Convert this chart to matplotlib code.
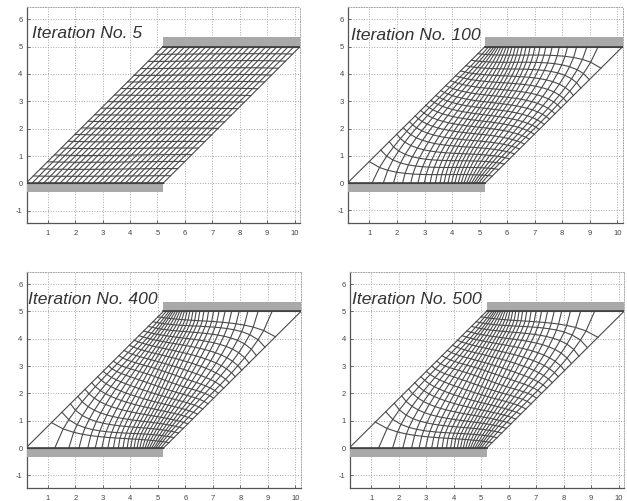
import numpy as np
import matplotlib
matplotlib.use('Agg')
import matplotlib.pyplot as plt
from matplotlib.patches import Rectangle

plt.rcParams['font.family'] = ['Liberation Sans', 'DejaVu Sans']
plt.rcParams['axes.unicode_minus'] = False

W, H = 627, 501

titles = ['Iteration No. 5', 'Iteration No. 100', 'Iteration No. 400', 'Iteration No. 500']

# mesh nodes read along the bottom edge (x) and the left edge (y)
bottom_5 = [0.2, 0.42, 0.63, 0.84, 1.04, 1.24, 1.44, 1.64, 1.84, 2.04, 2.24, 2.44, 2.64,
            2.84, 3.03, 3.23, 3.43, 3.63, 3.82, 4.01, 4.2, 4.4, 4.6, 4.79, 4.99, 5.2]
left_5 = [0, 0.27, 0.53, 0.79, 1.04, 1.29, 1.54, 1.79, 2.03, 2.27, 2.51, 2.75, 2.99, 3.23,
          3.47, 3.71, 3.95, 4.2, 4.46, 4.72, 5]
bottom_100 = [0.2, 1.09, 1.5, 1.87, 2.2, 2.5, 2.76, 2.99, 3.2, 3.39, 3.56, 3.71, 3.85,
              3.98, 4.1, 4.22, 4.33, 4.43, 4.53, 4.62, 4.71, 4.79, 4.87, 4.96, 5.07, 5.2]
left_100 = [0, 0.79, 1.21, 1.52, 1.79, 2.03, 2.25, 2.46, 2.66, 2.85, 3.03, 3.21, 3.39, 3.57,
            3.75, 3.93, 4.11, 4.3, 4.5, 4.74, 5]
bottom_400 = [0.2, 1.25, 1.76, 2.13, 2.45, 2.72, 2.96, 3.18, 3.38, 3.56, 3.73, 3.88, 4.01,
              4.13, 4.24, 4.34, 4.44, 4.53, 4.61, 4.69, 4.77, 4.85, 4.92, 5.0, 5.1, 5.2]
left_400 = [0, 0.93, 1.31, 1.62, 1.89, 2.15, 2.39, 2.61, 2.81, 3.0, 3.18, 3.38, 3.57, 3.76,
            3.94, 4.11, 4.28, 4.45, 4.62, 4.8, 5]
bottom_500 = [0.2, 1.27, 1.78, 2.15, 2.47, 2.74, 2.98, 3.2, 3.4, 3.58, 3.74, 3.89, 4.02,
              4.14, 4.25, 4.35, 4.44, 4.53, 4.61, 4.69, 4.77, 4.85, 4.92, 5.0, 5.1, 5.2]
left_500 = [0, 0.95, 1.33, 1.64, 1.91, 2.16, 2.39, 2.61, 2.81, 3.0, 3.18, 3.38, 3.57, 3.76,
            3.94, 4.11, 4.28, 4.45, 4.62, 4.8, 5]
bottoms = [bottom_5, bottom_100, bottom_400, bottom_500]
lefts = [left_5, left_100, left_400, left_500]

# estimated bow and end bend of the first half of the mesh lines
row_bow_5 = [0, -0.003, -0.004, -0.004, -0.004, -0.003, -0.003, -0.002, -0.002, -0.001, 0]
row_bend_5 = [0, 0, 0.005, 0.005, 0.01, 0.01, 0.01, 0.015, 0.015, 0.015, 0.015]
col_bow_5 = [0, -0.004, -0.004, -0.004, -0.004, -0.003, -0.003, -0.002, -0.002, -0.002, -0.001, -0.001, 0]
col_bend_5 = [0, 0, 0.005, 0.005, 0.01, 0.01, 0.01, 0.01, 0.015, 0.015, 0.015, 0.015, 0.015]

row_bow_100 = [0, -0.05, -0.065, -0.065, -0.055, -0.045, -0.035, -0.025, -0.015, -0.008, 0]
row_bend_100 = [0, 0, 0, 0.02, 0.04, 0.07, 0.1, 0.13, 0.16, 0.18, 0.2]
col_bow_100 = [0, -0.07, -0.08, -0.075, -0.065, -0.055, -0.042, -0.032, -0.024, -0.017, -0.012, -0.008, -0.003]
col_bend_100 = [0, 0, 0, 0.02, 0.05, 0.1, 0.15, 0.2, 0.24, 0.28, 0.3, 0.32, 0.33]

row_bow_500 = [0, -0.04, -0.062, -0.062, -0.055, -0.047, -0.038, -0.03, -0.02, -0.01, 0]
row_bend_500 = [0, 0, 0, 0, 0, 0, 0.03, 0.06, 0.1, 0.15, 0.2]
col_bow_500 = [0, -0.075, -0.08, -0.075, -0.068, -0.058, -0.048, -0.04, -0.032, -0.024, -0.016, -0.009, -0.003]
col_bend_500 = [0, 0, 0, 0, 0, 0.03, 0.1, 0.16, 0.23, 0.3, 0.36, 0.4, 0.45]

row_bows = [row_bow_5, row_bow_100, row_bow_500, row_bow_500]
row_bends = [row_bend_5, row_bend_100, row_bend_500, row_bend_500]
col_bows = [col_bow_5, col_bow_100, col_bow_500, col_bow_500]
col_bends = [col_bend_5, col_bend_100, col_bend_500, col_bend_500]
bend_power = [1, 1, 3, 3]

# axes frames in picture pixels: left, right, top, bottom
frames = [(26.7, 300, 7, 223), (348.3, 622.7, 7, 222.7),
          (26.7, 301, 271.7, 487.7), (350, 624, 271.7, 487.7)]
title_pos = [(0.018, 0.856), (0.01, 0.847), (0.005, 0.85), (0.006, 0.85)]

xticks = list(range(1, 11))
yticks = [-1, 0, 1, 2, 3, 4, 5, 6]


def mirror(half, size):
    out = np.zeros(size)
    for k, v in enumerate(half):
        out[k] = abs(v)
        out[size - 1 - k] = abs(v)
    return out


def bow_shape(u):
    return 6.75 * u * (1 - u) ** 2


def offset(u, bow, bend, lower, power):
    u = np.clip(u, 0, 1)
    part = np.where(lower, bow_shape(u), -bow_shape(1 - u))
    return -bow * part - bend * u * (1 - u) * (1 - 2 * u) ** power


def mesh(bottom, left, row_bow, row_bend, col_bow, col_bend, power):
    bottom = np.array(bottom)
    left = np.array(left)
    n, m = len(bottom), len(left)
    sb = (bottom - 0.2) / 5
    st = 1 - sb[::-1]
    tl = left / 5
    tr = 1 - tl[::-1]
    a = sb[:, None]
    da = (st - sb)[:, None]
    b = tl[None, :]
    db = (tr - tl)[None, :]
    lower_row = (np.arange(m) < m / 2)[None, :]
    lower_col = (np.arange(n) < n / 2)[:, None]
    rb = mirror(row_bow, m)[None, :]
    cb = mirror(col_bow, n)[:, None]
    rc = mirror(row_bend, m)[None, :]
    cc = mirror(col_bend, n)[:, None]
    # each node is where a cross line meets a long line
    s = (a + da * b) / (1 - da * db)
    t = b + s * db
    for _ in range(60):
        t_new = b + s * db + offset(s, rb, rc, lower_row, power)
        s_new = a + t * da + offset(t, cb, cc, lower_col, power)
        t = 0.6 * t + 0.4 * t_new
        s = 0.6 * s + 0.4 * s_new
    return 0.2 + 5 * s + 5 * t, 5 * t


fig = plt.figure(figsize=(W / 100, H / 100), dpi=100)

for k in range(4):
    l, r, top, bot = frames[k]
    ax = fig.add_axes([l / W, 1 - bot / H, (r - l) / W, (bot - top) / H])
    ax.set_xlim(0.23, 10.2)
    ax.set_ylim(-1.45, 6.45)
    ax.set_xticks(xticks)
    ax.set_yticks(yticks)
    ax.tick_params(direction='in', length=2, width=0.6, labelsize=5.5,
                   colors='#555555', labelcolor='#444444')
    ax.tick_params(axis='x', pad=5)
    ax.tick_params(axis='y', pad=3)
    ax.grid(color='#a6a6a6', linestyle=':', linewidth=0.7)
    ax.set_axisbelow(True)
    for side in ['top', 'right']:
        ax.spines[side].set_color('#a6a6a6')
        ax.spines[side].set_linestyle(':')
        ax.spines[side].set_linewidth(0.7)
    for side in ['left', 'bottom']:
        ax.spines[side].set_color('#555555')
        ax.spines[side].set_linewidth(0.9)

    ax.add_patch(Rectangle((0.23, -0.33), 4.97, 0.33, facecolor='#a9a9a9', edgecolor='none', zorder=3))
    ax.add_patch(Rectangle((5.2, 5), 5.0, 0.35, facecolor='#a9a9a9', edgecolor='none', zorder=3))

    x, y = mesh(bottoms[k], lefts[k], row_bows[k], row_bends[k], col_bows[k], col_bends[k], bend_power[k])
    ax.plot(x, y, color='#4a4a4a', linewidth=0.8, zorder=4)
    ax.plot(x.T, y.T, color='#4a4a4a', linewidth=0.8, zorder=4)
    ax.plot(x[:, 0], y[:, 0], color='#404040', linewidth=1.2, zorder=4)
    ax.plot(x[:, -1], y[:, -1], color='#404040', linewidth=1.2, zorder=4)

    ax.text(title_pos[k][0], title_pos[k][1], titles[k], transform=ax.transAxes, style='italic',
            fontsize=12.6, color='#333333', ha='left', va='baseline', zorder=6)

fig.savefig('out.png', dpi=100)
